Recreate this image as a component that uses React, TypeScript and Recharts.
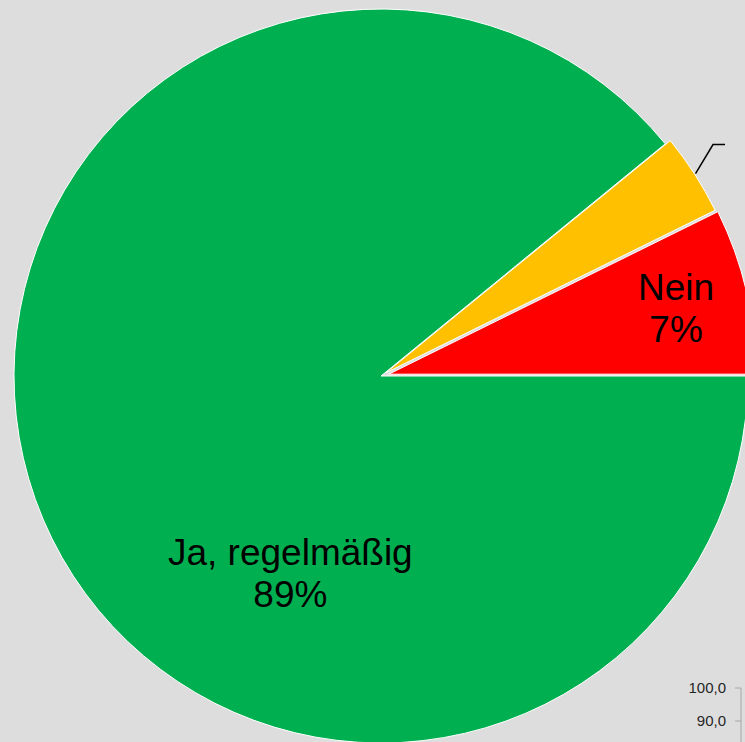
import React from "react";
import { PieChart, Pie, Cell, Sector, BarChart, Bar, YAxis, XAxis } from "recharts";

// pie slices, counter-clockwise from 3 o'clock
const sliceNames = ["Nein", "Ja, gelegentlich", "Ja, regelmäßig"];
const sliceValues = [7.3, 3.6, 89.1];
const sliceColors = ["#ff0000", "#ffc000", "#00b050"];

// neighbouring chart, only the top of its y axis peeks in at the bottom right
const axisDomain = [0, 100];
const axisTicks = [90, 100];
const axisCategories = [""];

const pieData = sliceNames.map((name, i) => ({ name, value: sliceValues[i] }));
const axisData = axisCategories.map((name) => ({ name }));

const BG = "#dddddd";
const FONT = "'Liberation Sans', Arial, sans-serif";
const RAD = Math.PI / 180;

// small slices are pulled out a little (px)
const explode = [8, 6, 0];

// label placement per slice, in units of the outer radius (null = leader line outside)
const labelPos: ({ dx: number; dy: number } | null)[] = [
  { dx: 0.804, dy: -0.183 },
  null,
  { dx: -0.247, dy: 0.537 },
];

function renderShape(props: any) {
  const i = props.index ?? sliceNames.indexOf(props.name ?? props.payload?.name);
  const d = explode[i] || 0;
  const ox = d * Math.cos(-props.midAngle * RAD);
  const oy = d * Math.sin(-props.midAngle * RAD);
  return <Sector {...props} cx={props.cx + ox} cy={props.cy + oy} />;
}

function renderLabel(props: any) {
  const { cx, cy, midAngle, outerRadius, percent, index, name } = props;
  const pct = `${Math.round(percent * 100)}%`;
  const pos = labelPos[index];
  if (pos) {
    const x = cx + pos.dx * outerRadius;
    const y = cy + pos.dy * outerRadius;
    return (
      <g key={`lbl-${index}`}>
        <text x={x} y={y - 8.5} textAnchor="middle" fontSize={37} fontFamily={FONT} fill="#000">
          {name}
        </text>
        <text x={x} y={y + 33.5} textAnchor="middle" fontSize={37} fontFamily={FONT} fill="#000">
          {pct}
        </text>
      </g>
    );
  }
  // leader line for the thin slice; its text falls off the right edge
  const cos = Math.cos(-midAngle * RAD);
  const sin = Math.sin(-midAngle * RAD);
  const r = outerRadius + (explode[index] || 0) + 1;
  const sx = cx + r * cos;
  const sy = cy + r * sin;
  const ex = sx + 17.5;
  const ey = sy - 29;
  return (
    <g key={`lbl-${index}`}>
      <polyline
        points={`${sx},${sy} ${ex},${ey} ${ex + 12},${ey}`}
        fill="none"
        stroke="#000"
        strokeWidth={1.5}
      />
    </g>
  );
}

const fmt = (v: number) => v.toFixed(1).replace(".", ",");

export default function App() {
  return (
    <div
      style={{
        position: "absolute",
        left: 0,
        top: 0,
        width: 745,
        height: 742,
        overflow: "hidden",
        background: BG,
      }}
    >
      <div style={{ position: "absolute", left: 0, top: 0 }}>
        <PieChart width={745} height={742} margin={{ top: 0, right: 0, bottom: 0, left: 0 }}>
          <Pie
            data={pieData}
            dataKey="value"
            nameKey="name"
            cx={381}
            cy={376}
            outerRadius={367}
            startAngle={0}
            endAngle={360}
            stroke="#ffffff"
            strokeWidth={1}
            shape={renderShape}
            label={renderLabel}
            labelLine={false}
            isAnimationActive={false}
          >
            {pieData.map((_, i) => (
              <Cell key={i} fill={sliceColors[i]} />
            ))}
          </Pie>
        </PieChart>
      </div>

      {/* edge of the next chart */}
      <div style={{ position: "absolute", left: 500, top: 678 }}>
        <BarChart width={400} height={360} data={axisData} margin={{ top: 10, right: 0, bottom: 20, left: 0 }}>
          <XAxis dataKey="name" hide />
          <YAxis
            type="number"
            domain={axisDomain}
            allowDataOverflow
            ticks={axisTicks}
            interval={0}
            width={241}
            tickSize={6}
            tickMargin={9}
            stroke="#a6a6a6"
            fontSize={15}
            fontFamily={FONT}
            tick={{ fill: "#262626", fontSize: 15, fontFamily: FONT }}
            tickFormatter={fmt}
          />
          <Bar dataKey="value" fill="#4472c4" isAnimationActive={false} />
        </BarChart>
      </div>
    </div>
  );
}
